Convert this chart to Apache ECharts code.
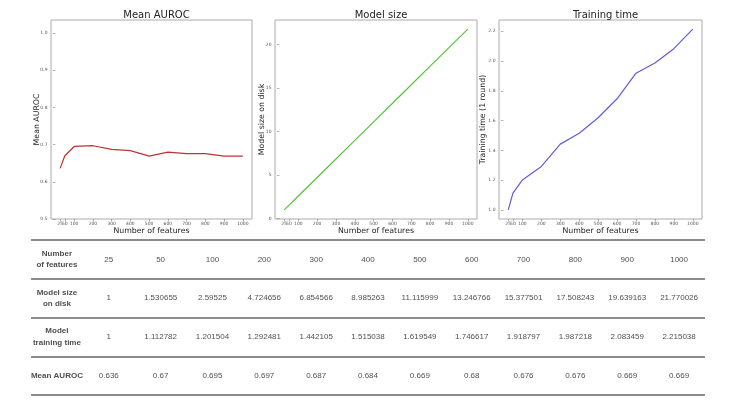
<!DOCTYPE html>
<html>
<head>
<meta charset="utf-8">
<script src="https://cdn.jsdelivr.net/npm/echarts@6/dist/echarts.min.js"></script>
<style>
html,body{margin:0;padding:0;background:#fff;}
#chart{width:735px;height:400px;}
</style>
</head>
<body>
<div id="chart"></div>
<script>
// ---- data ----
const features = [25, 50, 100, 200, 300, 400, 500, 600, 700, 800, 900, 1000];
const modelSize = [1, 1.530655, 2.59525, 4.724656, 6.854566, 8.985263, 11.115999, 13.246766, 15.377501, 17.508243, 19.639163, 21.770026];
const trainTime = [1, 1.112782, 1.201504, 1.292481, 1.442105, 1.515038, 1.619549, 1.746617, 1.918797, 1.987218, 2.083459, 2.215038];
const auroc = [0.636, 0.67, 0.695, 0.697, 0.687, 0.684, 0.669, 0.68, 0.676, 0.676, 0.669, 0.669];
const aurocTicks = [0.5, 0.6, 0.7, 0.8, 0.9, 1.0];
const sizeTicks = [0, 5, 10, 15, 20];
const timeTicks = [1.0, 1.2, 1.4, 1.6, 1.8, 2.0, 2.2];
const titles = ['Mean AUROC', 'Model size', 'Training time'];
const yNames = ['Mean AUROC', 'Model size on disk', 'Training time (1 round)'];
const rowHeaders = ['Number\nof features', 'Model size\non disk', 'Model\ntraining time', 'Mean AUROC'];

// ---- build ----
const chart = echarts.init(document.getElementById('chart'));
const grids = [
  {left: 51, top: 20, width: 201, height: 199},
  {left: 275, top: 20, width: 202, height: 199},
  {left: 499, top: 20, width: 203, height: 199}
];
const dj = 'DejaVu Sans';
// tick values split over two overlaid axes so the overlapping "25" and "50" labels both show
const ticksA = features.filter((f, i) => i !== 1);
const ticksB = [features[1]];
function xAxisFor(i, vals, withName) {
  return {
    type: 'value', gridIndex: i, min: -23.75, max: 1048.75, position: 'bottom',
    name: withName ? 'Number of features' : '', nameLocation: 'middle', nameGap: 7.5, nameMoveOverlap: false,
    nameTextStyle: {fontFamily: dj, fontSize: 7.8, color: '#222'},
    axisLine: {show: false, onZero: false},
    axisTick: {show: true, length: 2.5, lineStyle: {color: '#666', width: 0.5}, customValues: vals},
    axisLabel: {fontFamily: dj, fontSize: 4.5, color: '#555', margin: 2.5, customValues: vals,
      hideOverlap: false, formatter: v => String(v)},
    splitLine: {show: false}
  };
}
function yAxisFor(i, min, max, ticks, dec, gap) {
  return {
    type: 'value', gridIndex: i, min: min, max: max,
    name: yNames[i], nameLocation: 'middle', nameGap: gap, nameMoveOverlap: false,
    nameTextStyle: {fontFamily: dj, fontSize: 7.8, color: '#222'},
    axisLine: {show: false},
    axisTick: {show: true, length: 2.5, lineStyle: {color: '#666', width: 0.5}, customValues: ticks},
    axisLabel: {fontFamily: dj, fontSize: 4.5, color: '#555', margin: 3.5, customValues: ticks,
      formatter: v => Number(v).toFixed(dec)},
    splitLine: {show: false}
  };
}
const tableCols = ['hdr'].concat(features.map(String));
const tableRows = ['features', 'size', 'time', 'auroc'];
const valueRows = [features, modelSize, trainTime, auroc];
const cellData = [];
valueRows.forEach((arr, r) => arr.forEach((v, c) => cellData.push([c + 1, r, String(v)])));
const headerData = rowHeaders.map((t, r) => [0, r, t]);

const option = {
  backgroundColor: '#fff',
  animation: false,
  title: titles.map((t, i) => ({
    text: t, left: grids[i].left + grids[i].width / 2, top: 5, textAlign: 'center',
    textStyle: {fontFamily: dj, fontSize: 10, fontWeight: 'normal', color: '#222'}
  })),
  grid: grids.map(g => Object.assign({show: true, borderColor: '#aaa', borderWidth: 1, backgroundColor: '#fff'}, g))
    .concat([{left: 31, right: 30, top: 240, bottom: 5}]),
  xAxis: [xAxisFor(0, ticksA, true), xAxisFor(1, ticksA, true), xAxisFor(2, ticksA, true),
    {type: 'category', gridIndex: 3, data: tableCols, show: false},
    xAxisFor(0, ticksB, false), xAxisFor(1, ticksB, false), xAxisFor(2, ticksB, false)],
  yAxis: [
    yAxisFor(0, 0.5, 1.035, aurocTicks, 1, 10),
    yAxisFor(1, -0.04, 22.81, sizeTicks, 0, 9),
    yAxisFor(2, 0.939, 2.276, timeTicks, 1, 12),
    {type: 'category', gridIndex: 3, data: tableRows, inverse: true,
      axisLine: {show: false}, axisTick: {show: false}, axisLabel: {show: false},
      splitLine: {show: true, lineStyle: {color: '#666', width: 1.5}}}
  ],
  series: [
    {type: 'line', xAxisIndex: 0, yAxisIndex: 0, data: features.map((f, i) => [f, auroc[i]]),
      showSymbol: false, lineStyle: {color: '#c03333', width: 1.2}},
    {type: 'line', xAxisIndex: 1, yAxisIndex: 1, data: features.map((f, i) => [f, modelSize[i]]),
      showSymbol: false, lineStyle: {color: '#55c43c', width: 1.2}},
    {type: 'line', xAxisIndex: 2, yAxisIndex: 2, data: features.map((f, i) => [f, trainTime[i]]),
      showSymbol: false, lineStyle: {color: '#5f5fd6', width: 1.2}},
    {type: 'scatter', xAxisIndex: 3, yAxisIndex: 3, data: cellData, symbolSize: 0, silent: true,
      label: {show: true, position: 'inside', formatter: p => p.data[2],
        fontFamily: 'Liberation Sans', fontSize: 8, color: '#222'}},
    {type: 'scatter', xAxisIndex: 3, yAxisIndex: 3, data: headerData, symbolSize: 0, silent: true,
      label: {show: true, position: 'inside', formatter: p => p.data[2], align: 'center',
        fontFamily: 'Liberation Sans', fontSize: 8, fontWeight: 'bold', lineHeight: 11.5, color: '#222'}}
  ]
};
chart.setOption(option);
</script>
</body>
</html>
